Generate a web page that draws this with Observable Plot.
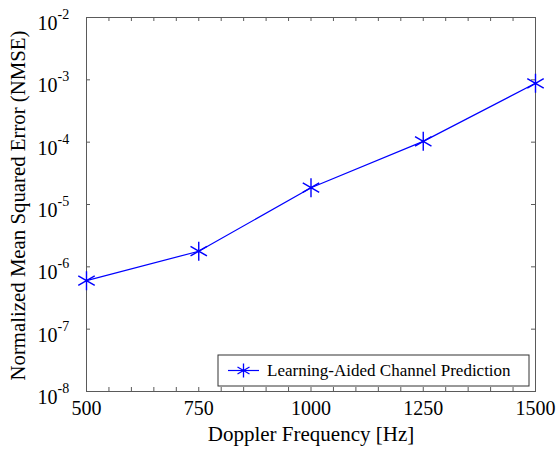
<!DOCTYPE html>
<html><head><meta charset="utf-8">
<script src="https://cdn.jsdelivr.net/npm/d3@7"></script>
<script src="https://cdn.jsdelivr.net/npm/@observablehq/plot@0.6"></script>
<style>body{margin:0;background:#fff}</style>
</head><body><div id="chart"></div>
<script>
const doppler = [500, 750, 1000, 1250, 1500];
const nmse = [6.0e-7, 1.78e-6, 1.86e-5, 1.03e-4, 8.8e-4];
const seriesName = "Learning-Aided Channel Prediction";
const xTicks = [500, 750, 1000, 1250, 1500];
const xMinorTicks = d3.range(500, 1501, 50);
const yExponents = [-8, -7, -6, -5, -4, -3, -2];
const yTicks = yExponents.map(e => Math.pow(10, e));
const xLabel = "Doppler Frequency [Hz]";
const yLabel = "Normalized Mean Squared Error (NMSE)";

const data = doppler.map((d, i) => ({x: d, y: nmse[i]}));
const W = 556, H = 457, mL = 86, mR = 21, mT = 17, mB = 66;
const pw = W - mL - mR, ph = H - mT - mB;
const tk = 4, frameColor = "#5a5a5a", blue = "#0000ff";

const chart = Plot.plot({
  width: W, height: H,
  marginLeft: mL, marginRight: mR, marginTop: mT, marginBottom: mB,
  style: {fontFamily: "'Liberation Serif', serif", background: "#fff", color: "#000"},
  x: {domain: [500, 1500], axis: null},
  y: {type: "log", domain: [1e-8, 1e-2], axis: null},
  marks: [
    Plot.tickX(xMinorTicks, {x: d => d, stroke: frameColor, insetTop: ph - tk}),
    Plot.tickX(xMinorTicks, {x: d => d, stroke: frameColor, insetBottom: ph - tk}),
    Plot.tickY(yTicks, {y: d => d, stroke: frameColor, insetRight: pw - tk}),
    Plot.tickY(yTicks, {y: d => d, stroke: frameColor, insetLeft: pw - tk}),
    Plot.frame({stroke: frameColor, strokeWidth: 1}),
    Plot.line(data, {x: "x", y: "y", stroke: blue, strokeWidth: 1.2}),
    Plot.dot(data, {x: "x", y: "y", symbol: "asterisk", r: 9, stroke: blue, strokeWidth: 1.4}),
    Plot.text(xTicks, {x: d => d, frameAnchor: "bottom", dy: 23, text: d => String(d), fontSize: 20, fill: "#000"}),
    Plot.text(yTicks, {y: d => d, frameAnchor: "left", dx: -29, dy: 6, text: () => "10", textAnchor: "end", fontSize: 20, fill: "#000"}),
    Plot.text(yTicks, {y: d => d, frameAnchor: "left", dx: -29, dy: -3, text: (d, i) => String(yExponents[i]), textAnchor: "start", fontSize: 14, fill: "#000"}),
    Plot.text([xLabel], {frameAnchor: "bottom", dy: 49, text: d => d, fontSize: 21, fill: "#000"}),
    Plot.text([yLabel], {frameAnchor: "left", dx: -68, dy: 1, rotate: -90, textAnchor: "middle", text: d => d, fontSize: 20.8, fill: "#000"})
  ]
});

const svg = d3.select(chart);
const lg = svg.append("g");
const bx = 218, by = 355, bw = 311, bh = 31;
lg.append("rect").attr("x", bx).attr("y", by).attr("width", bw).attr("height", bh)
  .attr("fill", "#fff").attr("stroke", "#333").attr("stroke-width", 1);
const cy = by + bh / 2;
lg.append("line").attr("x1", bx + 10).attr("x2", bx + 41).attr("y1", cy).attr("y2", cy)
  .attr("stroke", blue).attr("stroke-width", 1.2);
lg.append("path").attr("d", d3.symbol(d3.symbolAsterisk, 135)()).attr("transform", `translate(${bx + 25.5},${cy})`)
  .attr("fill", "none").attr("stroke", blue).attr("stroke-width", 1.3);
lg.append("text").attr("x", bx + 49).attr("y", cy).attr("dy", "0.32em").attr("text-anchor", "start")
  .attr("font-size", 17).attr("fill", "#000").text(seriesName);

document.getElementById("chart").appendChild(chart);
</script>
</body></html>
